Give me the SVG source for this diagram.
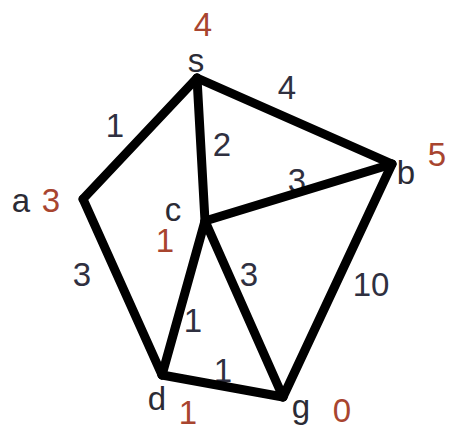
<svg xmlns="http://www.w3.org/2000/svg" width="449" height="436" viewBox="0 0 449 436">
<style>
text{font-family:"Liberation Sans",Arial,sans-serif;font-size:33px;text-anchor:middle}
.n{fill:#2b2b35}
.h{fill:#a8452f}
.w{fill:#2f3040}
.e{stroke:#000;stroke-width:9;stroke-linecap:round;fill:none}
</style>
<rect width="449" height="436" fill="#fff"/>
<g id="labels">
<text class="w" x="115" y="137">1</text>
<text class="w" x="222" y="156">2</text>
<text class="w" x="287" y="99">4</text>
<text class="w" x="297" y="192">3</text>
<text class="w" x="82" y="286">3</text>
<text class="w" x="249" y="286">3</text>
<text class="w" x="371" y="296">10</text>
<text class="w" x="193" y="332">1</text>
<text class="w" x="223" y="382">1</text>
</g>
<g id="connectors">
<line class="e" x1="197" y1="78" x2="83" y2="199"/>
<line class="e" x1="197" y1="78" x2="205" y2="221"/>
<line class="e" x1="197" y1="78" x2="392" y2="164"/>
<line class="e" x1="205" y1="221" x2="392" y2="164"/>
<line class="e" x1="83" y1="199" x2="162" y2="375"/>
<line class="e" x1="205" y1="221" x2="162" y2="375"/>
<line class="e" x1="205" y1="221" x2="283" y2="397"/>
<line class="e" x1="162" y1="375" x2="283" y2="397"/>
<line class="e" x1="392" y1="164" x2="283" y2="397"/>
</g>
<g id="node-s"><text class="h" x="203" y="36">4</text><text class="n" x="196" y="72">s</text></g>
<g id="node-b"><text class="n" x="406" y="184">b</text><text class="h" x="437" y="166">5</text></g>
<g id="node-a"><text class="n" x="21" y="212">a</text><text class="h" x="51" y="212">3</text></g>
<g id="node-c"><text class="n" x="173" y="221">c</text><text class="h" x="165" y="252">1</text></g>
<g id="node-d"><text class="n" x="157" y="410">d</text><text class="h" x="188" y="424">1</text></g>
<g id="node-g"><text class="n" x="301" y="418">g</text><text class="h" x="342" y="422">0</text></g>
</svg>
